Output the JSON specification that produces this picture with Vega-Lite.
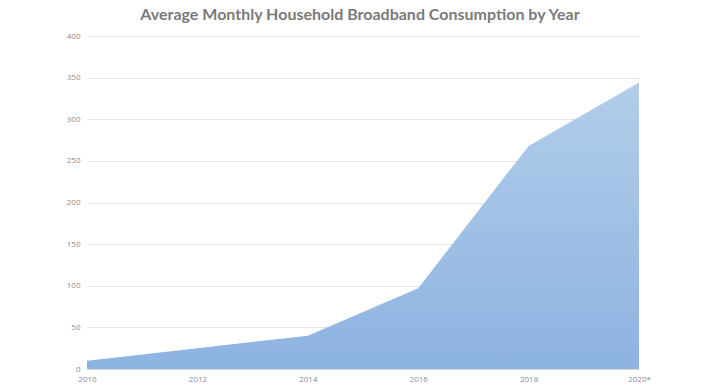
{
  "$schema": "https://vega.github.io/schema/vega-lite/v6.json",
  "width": 552,
  "height": 333,
  "autosize": {"type": "none"},
  "padding": {"left": 87, "top": 36, "right": 81, "bottom": 18},
  "background": "white",
  "title": {
    "text": "Average Monthly Household Broadband Consumption by Year",
    "font": "Lato",
    "fontSize": 16,
    "fontWeight": "bold",
    "color": "#7a7a7a",
    "anchor": "middle",
    "dx": -3,
    "offset": 9
  },
  "data": {
    "values": [
      {"year": "2010", "gb": 10},
      {"year": "2012", "gb": 25},
      {"year": "2014", "gb": 40},
      {"year": "2016", "gb": 97},
      {"year": "2018", "gb": 268},
      {"year": "2020*", "gb": 344}
    ]
  },
  "mark": {
    "type": "area",
    "line": false,
    "color": {
      "gradient": "linear",
      "x1": 0, "y1": 0, "x2": 0, "y2": 1,
      "stops": [
        {"offset": 0, "color": "#b2cdea"},
        {"offset": 1, "color": "#8db3e1"}
      ]
    }
  },
  "encoding": {
    "x": {
      "field": "year",
      "type": "ordinal",
      "scale": {"type": "point", "padding": 0},
      "axis": {
        "title": null,
        "labelAngle": 0,
        "labelFont": "Open Sans",
        "labelFontSize": 8,
        "labelColor": "#8c8c8c",
        "labelPadding": 6,
        "ticks": false,
        "domainColor": "#d9d9d9",
        "grid": false
      }
    },
    "y": {
      "field": "gb",
      "type": "quantitative",
      "scale": {"domain": [0, 400], "nice": false},
      "axis": {
        "title": null,
        "values": [0, 50, 100, 150, 200, 250, 300, 350, 400],
        "labelFont": "Open Sans",
        "labelFontSize": 8,
        "labelColor": "#8c8c8c",
        "labelPadding": 7,
        "ticks": false,
        "domain": false,
        "grid": true,
        "gridColor": "#e4e4e4",
        "gridWidth": 1
      }
    }
  },
  "config": {"view": {"stroke": null}}
}
